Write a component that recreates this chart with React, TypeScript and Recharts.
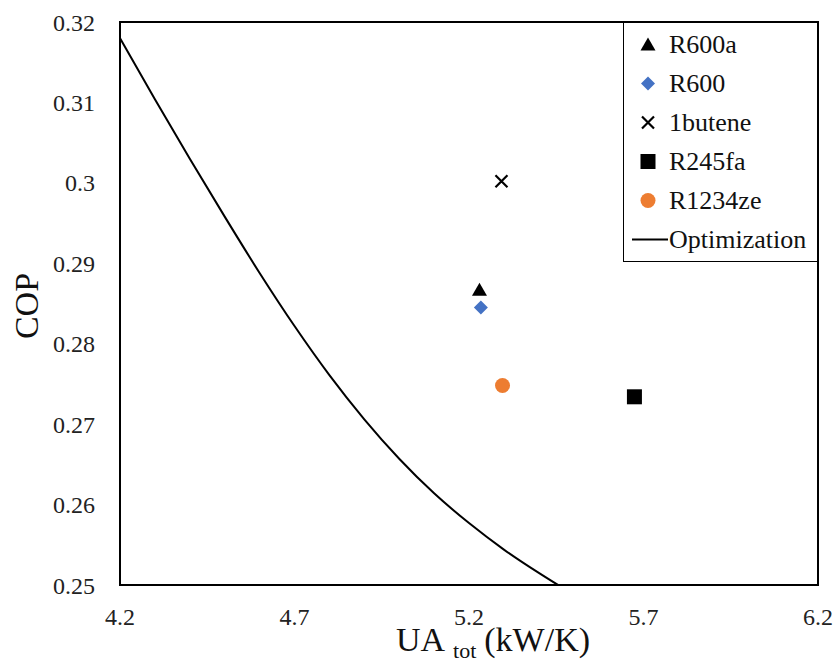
import { ScatterChart, Scatter, XAxis, YAxis, ReferenceArea, Legend } from "recharts"

const serif = "Liberation Serif"

const xTicks = [4.2, 4.7, 5.2, 5.7, 6.2]
const yTicks = [0.25, 0.26, 0.27, 0.28, 0.29, 0.3, 0.31, 0.32]

// single design points per working fluid (UA_tot, COP)
const r600a = [{ ua: 5.23, cop: 0.2867 }]
const r600 = [{ ua: 5.234, cop: 0.2845 }]
const butene = [{ ua: 5.293, cop: 0.3002 }]
const r245fa = [{ ua: 5.674, cop: 0.2734 }]
const r1234ze = [{ ua: 5.296, cop: 0.2748 }]

// optimization front
const optimization = [
  { ua: 4.2, cop: 0.318 },
  { ua: 4.3, cop: 0.3104 },
  { ua: 4.4, cop: 0.303 },
  { ua: 4.5, cop: 0.2958 },
  { ua: 4.6, cop: 0.2888 },
  { ua: 4.7, cop: 0.2822 },
  { ua: 4.8, cop: 0.2761 },
  { ua: 4.9, cop: 0.2706 },
  { ua: 5.0, cop: 0.2657 },
  { ua: 5.1, cop: 0.2614 },
  { ua: 5.2, cop: 0.2577 },
  { ua: 5.3, cop: 0.2544 },
  { ua: 5.4, cop: 0.2515 },
  { ua: 5.455, cop: 0.25 },
]

type Kind = "triangle" | "diamond" | "x" | "square" | "circle" | "line"

const legendOrder = ["R600a", "R600", "1butene", "R245fa", "R1234ze", "Optimization"]

const kinds: Record<string, Kind> = {
  R600a: "triangle",
  R600: "diamond",
  "1butene": "x",
  R245fa: "square",
  R1234ze: "circle",
  Optimization: "line",
}

const BLUE = "#4472C4"
const ORANGE = "#ED7D31"

function Marker({ kind, cx, cy, color }: { kind: Kind; cx: number; cy: number; color: string }) {
  switch (kind) {
    case "triangle":
      return <path d={`M${cx},${cy - 7} L${cx + 7.5},${cy + 6} L${cx - 7.5},${cy + 6} Z`} fill={color} />
    case "diamond":
      return <path d={`M${cx},${cy - 7} L${cx + 7},${cy} L${cx},${cy + 7} L${cx - 7},${cy} Z`} fill={color} />
    case "x":
      return (
        <path
          d={`M${cx - 6},${cy - 6} L${cx + 6},${cy + 6} M${cx + 6},${cy - 6} L${cx - 6},${cy + 6}`}
          stroke={color}
          strokeWidth={2.2}
        />
      )
    case "square":
      return <rect x={cx - 7.5} y={cy - 7.5} width={15} height={15} fill={color} />
    case "circle":
      return <circle cx={cx} cy={cy} r={7.5} fill={color} />
    default:
      return <g />
  }
}

const shapeOf = (kind: Kind, color: string) => (p: any) => (
  <Marker kind={kind} cx={p.cx} cy={p.cy} color={color} />
)

function LegendBox({ payload }: any) {
  const items = [...(payload || [])].sort(
    (a: any, b: any) => legendOrder.indexOf(a.value) - legendOrder.indexOf(b.value)
  )
  return (
    <div
      style={{
        border: "1px solid #000",
        background: "#fff",
        width: 195,
        boxSizing: "border-box",
        paddingTop: 2,
        paddingBottom: 2,
        fontFamily: serif,
        fontSize: 26,
        color: "#111",
      }}
    >
      {items.map((entry: any) => {
        const kind = kinds[entry.value]
        return (
          <div key={entry.value} style={{ height: 39, display: "flex", alignItems: "center" }}>
            <svg width={45} height={39} style={{ flex: "none" }}>
              {kind === "line" ? (
                <line x1={8} x2={44} y1={19.5} y2={19.5} stroke="#000" strokeWidth={2} />
              ) : (
                <Marker kind={kind} cx={24} cy={19.5} color={entry.color} />
              )}
            </svg>
            <span style={{ lineHeight: "39px", whiteSpace: "nowrap", fontFamily: serif }}>{entry.value}</span>
          </div>
        )
      })}
    </div>
  )
}

const fmt = (v: number) => String(Number(v.toFixed(2)))

const tickStyle = { fill: "#222", fontSize: 24, fontFamily: serif, style: { fontFamily: serif } }

export default function App() {
  return (
    <div style={{ position: "absolute", left: 0, top: 0, background: "#fff" }}>
      <ScatterChart width={835} height={671} margin={{ top: 22, right: 17, left: 0, bottom: 0 }}>
        <XAxis
          dataKey="ua"
          type="number"
          domain={[4.2, 6.2]}
          ticks={xTicks}
          height={86}
          tickLine={false}
          axisLine={false}
          tickMargin={17}
          tick={tickStyle}
          label={{
            content: ({ viewBox }: any) => (
              <text
                x={viewBox.x + viewBox.width / 2 + 24}
                y={651}
                textAnchor="middle"
                fontFamily={serif}
                fontSize={34}
                fill="#111"
              >
                UA
                <tspan fontSize={22} dx={8} dy={7}>
                  tot
                </tspan>
                <tspan fontSize={34} dx={8} dy={-7}>
                  (kW/K)
                </tspan>
              </text>
            ),
          }}
        />
        <YAxis
          dataKey="cop"
          type="number"
          domain={[0.25, 0.32]}
          ticks={yTicks}
          width={120}
          tickLine={false}
          axisLine={false}
          tickMargin={19}
          tickFormatter={fmt}
          tick={tickStyle}
          label={{
            content: () => (
              <text
                x={26}
                y={306}
                transform="rotate(-90, 26, 306)"
                textAnchor="middle"
                dominantBaseline="central"
                fontFamily={serif}
                fontSize={34}
                fill="#111"
              >
                COP
              </text>
            ),
          }}
        />
        <Scatter name="R600a" data={r600a} fill="#000" shape={shapeOf("triangle", "#000")} isAnimationActive={false} />
        <Scatter name="R600" data={r600} fill={BLUE} shape={shapeOf("diamond", BLUE)} isAnimationActive={false} />
        <Scatter name="1butene" data={butene} fill="#000" shape={shapeOf("x", "#000")} isAnimationActive={false} />
        <Scatter name="R245fa" data={r245fa} fill="#000" shape={shapeOf("square", "#000")} isAnimationActive={false} />
        <Scatter name="R1234ze" data={r1234ze} fill={ORANGE} shape={shapeOf("circle", ORANGE)} isAnimationActive={false} />
        <Scatter
          name="Optimization"
          data={optimization}
          fill="#000"
          line={{ stroke: "#000", strokeWidth: 2 }}
          lineJointType="monotoneX"
          shape={() => <g />}
          isAnimationActive={false}
        />
        <ReferenceArea
          x1={4.2}
          x2={6.2}
          y1={0.25}
          y2={0.32}
          fill="none"
          stroke="#000"
          strokeWidth={2}
          ifOverflow="visible"
        />
        <Legend
          layout="vertical"
          align="center"
          verticalAlign="middle"
          content={<LegendBox />}
          wrapperStyle={{ position: "absolute", left: 623, top: 22, width: "auto", height: "auto" }}
        />
      </ScatterChart>
    </div>
  )
}
